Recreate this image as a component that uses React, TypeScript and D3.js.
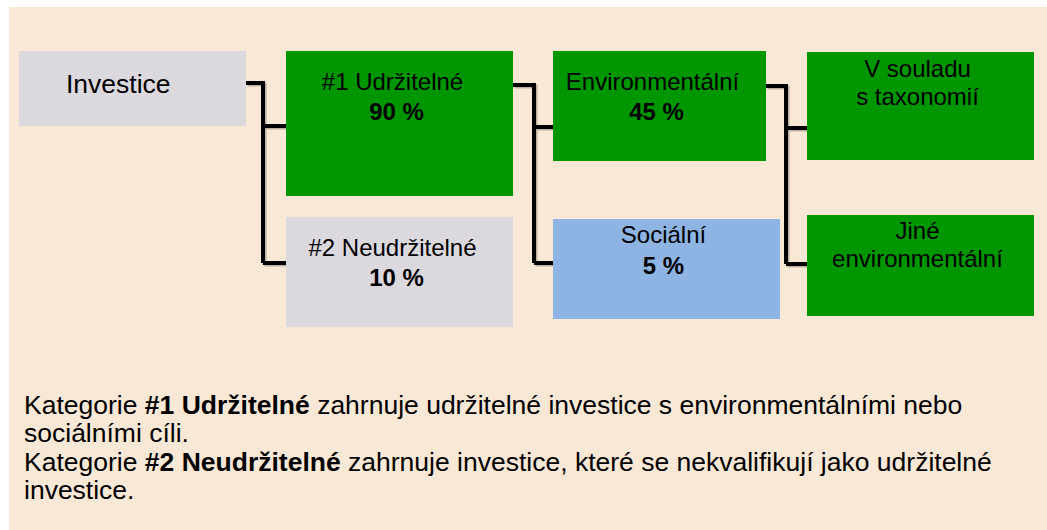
import React from 'react';
import * as d3 from 'd3';

// data
const nodeIds = ['inv', 'sus', 'nonSus', 'env', 'soc', 'taxo', 'otherEnv'];
const nodeLabels = [
  ['Investice'],
  ['#1 Udržitelné'],
  ['#2 Neudržitelné'],
  ['Environmentální'],
  ['Sociální'],
  ['V souladu', 's taxonomií'],
  ['Jiné', 'environmentální'],
];
const nodeShares = ['', '90 %', '10 %', '45 %', '5 %', '', ''];
const links = [
  ['inv', 'sus'],
  ['inv', 'nonSus'],
  ['sus', 'env'],
  ['sus', 'soc'],
  ['env', 'taxo'],
  ['env', 'otherEnv'],
];
const notes = [
  [['Kategorie ', false], ['#1 Udržitelné', true], [' zahrnuje udržitelné investice s environmentálními nebo', false]],
  [['sociálními cíli.', false]],
  [['Kategorie ', false], ['#2 Neudržitelné', true], [' zahrnuje investice, které se nekvalifikují jako udržitelné', false]],
  [['investice.', false]],
];

// layout (box geometry per node)
const boxes = {
  inv: { x: 19, y: 51, w: 227, h: 75, fill: '#dbd8de', textTop: 42, anchor: 'start', tx: 66, size: 26.5 },
  sus: { x: 286, y: 51, w: 227, h: 145, fill: '#009600', textTop: 39, dx: -7 },
  nonSus: { x: 286, y: 217, w: 227, h: 110, fill: '#dbd8de', textTop: 39, dx: -7 },
  env: { x: 553, y: 51, w: 213, h: 110, fill: '#009600', textTop: 39, dx: -7 },
  soc: { x: 553, y: 219, w: 227, h: 100, fill: '#8eb4e3', textTop: 24 },
  taxo: { x: 807, y: 52, w: 227, h: 108, fill: '#009600', textTop: 25 },
  otherEnv: { x: 807, y: 215, w: 227, h: 101, fill: '#009600', textTop: 24 },
};
const elbowX = { inv: 263, sus: 534, env: 786 };
const outY = { inv: 83, sus: 85, env: 86 };
const inY = { sus: 126, nonSus: 263, env: 127, soc: 263, taxo: 128, otherEnv: 264 };

const W = 1047;
const H = 530;
const font = '"Liberation Sans", Arial, sans-serif';

export default function App() {
  const lineGap = d3.scaleLinear().domain([0, 1]).range([0, 28]);

  const connectors = Object.keys(elbowX).map((p) => {
    const b = boxes[p];
    const kids = links.filter((l) => l[0] === p).map((l) => l[1]);
    const path = d3.path();
    const ex = elbowX[p];
    const ys = kids.map((k) => inY[k]);
    path.moveTo(b.x + b.w, outY[p]);
    path.lineTo(ex, outY[p]);
    path.lineTo(ex, d3.max(ys));
    kids.forEach((k) => {
      path.moveTo(ex, inY[k]);
      path.lineTo(boxes[k].x, inY[k]);
    });
    return { id: p, d: path.toString() };
  });

  return (
    <svg width={W} height={H} style={{ position: 'absolute', left: 0, top: 0 }} fontFamily={font}>
      <rect x={0} y={0} width={W} height={H} fill="#ffffff" />
      <rect x={9} y={7} width={W - 9} height={H - 7} fill="#fae8d7" />

      {connectors.map((c) => (
        <g key={c.id}>
          <path d={c.d} transform="translate(1.5,1.5)" fill="none" stroke="#b9aea4" strokeWidth={4} />
          <path d={c.d} fill="none" stroke="#000" strokeWidth={4} />
        </g>
      ))}

      {nodeIds.map((id, i) => {
        const b = boxes[id];
        const cx = b.anchor === 'start' ? b.tx : b.x + b.w / 2 - 3;
        const lines = nodeLabels[i];
        return (
          <g key={id}>
            <rect x={b.x} y={b.y} width={b.w} height={b.h} fill={b.fill} />
            {lines.map((t, j) => (
              <text
                key={j}
                x={cx + (j === 0 && b.dx ? b.dx + 3 : 0)}
                y={b.y + b.textTop + lineGap(j)}
                textAnchor={b.anchor || 'middle'}
                fontSize={b.size || 24}
                fill="#000"
              >
                {t}
              </text>
            ))}
            {nodeShares[i] && (
              <text
                x={cx}
                y={b.y + b.textTop + (id === 'soc' ? 31 : 30)}
                textAnchor="middle"
                fontSize={24}
                fontWeight="bold"
                fill="#000"
              >
                {nodeShares[i]}
              </text>
            )}
          </g>
        );
      })}

      {notes.map((parts, i) => (
        <text key={i} x={24} y={414 + i * 28.3} fontSize={26.5} fill="#000">
          {parts.map(([t, bold], j) => (
            <tspan key={j} fontWeight={bold ? 'bold' : 'normal'}>
              {t}
            </tspan>
          ))}
        </text>
      ))}
    </svg>
  );
}
